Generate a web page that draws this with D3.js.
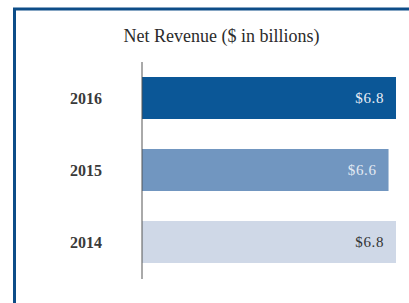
<!DOCTYPE html>
<html><head><meta charset="utf-8">
<script src="https://cdn.jsdelivr.net/npm/d3@7"></script>
<style>html,body{margin:0;padding:0;background:#fff;overflow:hidden}</style>
</head><body>
<svg id="c" width="409" height="303"></svg>
<script>
const years = ["2016", "2015", "2014"];
const revenue = [6.8, 6.6, 6.8];
const labels = ["$6.8", "$6.6", "$6.8"];
const barColors = ["#0b5797", "#7196c0", "#cfd8e7"];
const labelColors = ["#e8eef6", "#e3eaf3", "#333333"];
const title = "Net Revenue ($ in billions)";

const svg = d3.select("#c");
// frame
svg.append("rect").attr("x",0).attr("y",0).attr("width",409).attr("height",303).attr("fill","#fff");
svg.append("line").attr("x1",13).attr("x2",409).attr("y1",9).attr("y2",9).attr("stroke","#0d4d88").attr("stroke-width",3);
svg.append("line").attr("x1",14.5).attr("x2",14.5).attr("y1",8).attr("y2",303).attr("stroke","#0d4d88").attr("stroke-width",3);

const x = d3.scaleLinear().domain([0, 6.8]).range([142, 396]);
const y = d3.scaleBand().domain(years).range([62, 278]).paddingInner(0.4167).paddingOuter(0.2083);

svg.append("text").attr("x", 221.5).attr("y", 42).attr("text-anchor","middle")
  .attr("font-family","Liberation Serif, Times New Roman, serif").attr("font-size",18).attr("fill","#2b2b2b").text(title);

svg.selectAll("rect.bar").data(years).enter().append("rect").attr("class","bar")
  .attr("x", x(0)).attr("y", d => y(d)).attr("width", (d,i) => x(revenue[i]) - x(0))
  .attr("height", y.bandwidth()).attr("fill", (d,i) => barColors[i]);

svg.selectAll("text.val").data(years).enter().append("text").attr("class","val")
  .attr("x", (d,i) => x(revenue[i]) - 12).attr("y", d => y(d) + y.bandwidth()/2 + 5)
  .attr("text-anchor","end").attr("font-family","Liberation Serif, serif").attr("font-size",15)
  .attr("letter-spacing", 0.6)
  .attr("fill", (d,i) => labelColors[i]).text((d,i) => labels[i]);

const axis = d3.axisLeft(y).tickSize(0).tickPadding(40);
const g = svg.append("g").attr("transform","translate(142,0)").call(axis);
g.select(".domain").attr("stroke","#555").attr("stroke-width",1).attr("d","M0,62V279");
g.selectAll("text").attr("font-family","Liberation Serif, serif").attr("font-size",16).attr("fill","#3a3a3a").attr("font-weight","bold").attr("dy","0.35em");
</script>
</body></html>
